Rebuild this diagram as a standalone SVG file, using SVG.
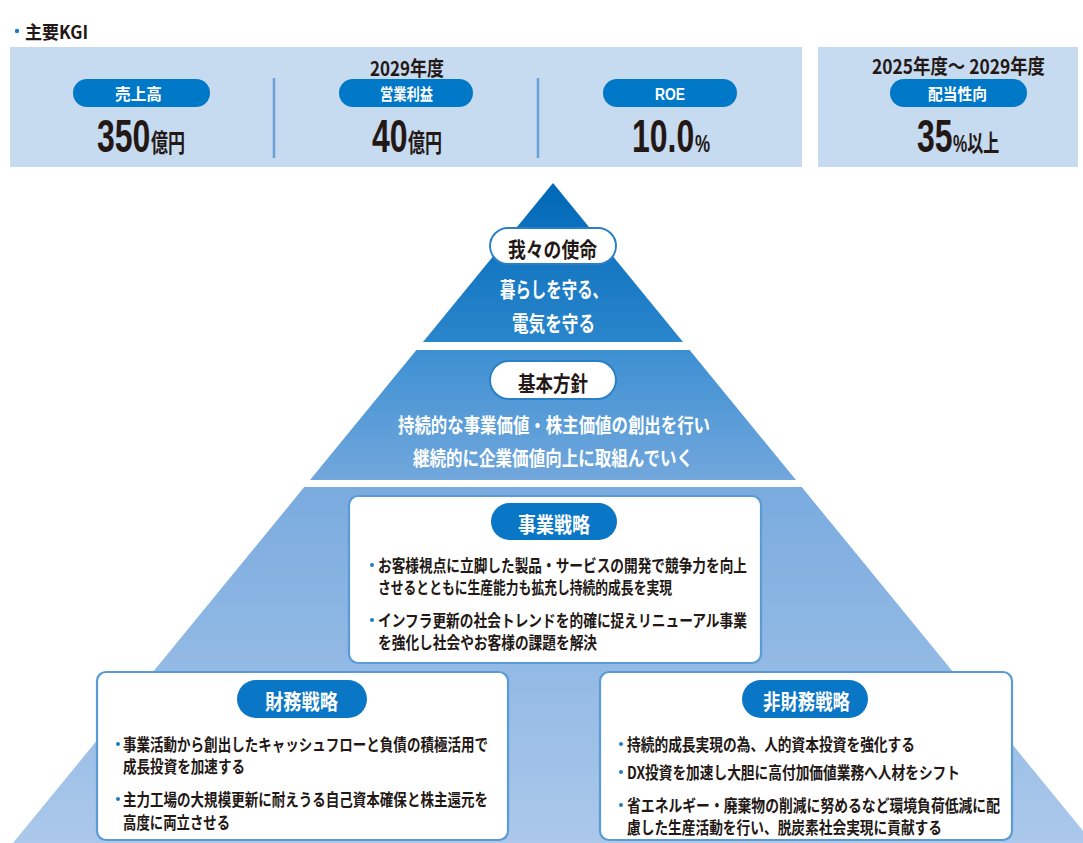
<svg xmlns="http://www.w3.org/2000/svg" width="1083" height="843" viewBox="0 0 1083 843">
<defs>
<linearGradient id="pyr" gradientUnits="userSpaceOnUse" x1="0" y1="183" x2="0" y2="843">
<stop offset="0" stop-color="#0068b7"/>
<stop offset="0.241" stop-color="#2a86cc"/>
<stop offset="0.253" stop-color="#3d90d3"/>
<stop offset="0.45" stop-color="#72a7dc"/>
<stop offset="0.461" stop-color="#7aabdf"/>
<stop offset="1" stop-color="#abc8ea"/>
</linearGradient>
<style>
.jp{font-family:"Noto Sans CJK JP","Noto Sans",sans-serif;font-weight:700}
.num{font-family:"Liberation Sans",Arial,sans-serif;font-weight:700}
.dk{fill:#231815}
.wh{fill:#ffffff}
.panel{fill:#c6daf0}
.div{stroke:#6a9fd8;stroke-width:2.5}
.kpill{fill:#0078c8}
.wpill{fill:#ffffff;stroke:#2a7fc6;stroke-width:2}
.box{fill:#ffffff;stroke:#5b9bd5;stroke-width:2.2}
.bpill{fill:#0a76c6}
.dot{fill:#1a7dc8}
.bul{font-size:16.5px}
.big{font-size:32px}
</style>
</defs>

<g id="kgi-header">
<circle class="dot" cx="17" cy="31" r="2.2"/>
<text class="jp dk" x="25" y="39" font-size="18" textLength="63" lengthAdjust="spacingAndGlyphs">主要KGI</text>
</g>

<g id="kgi-panel-2029">
<rect class="panel" x="10" y="47" width="792" height="120"/>
<line class="div" x1="274" y1="78" x2="274" y2="158"/>
<line class="div" x1="538" y1="78" x2="538" y2="158"/>
<text class="jp dk" x="370" y="75.5" font-size="20" textLength="74" lengthAdjust="spacingAndGlyphs">2029年度</text>
</g>

<g id="kgi-sales">
<rect class="kpill" x="73" y="79" width="137" height="28" rx="14"/>
<text class="jp wh" x="115" y="100" font-size="16" textLength="47" lengthAdjust="spacingAndGlyphs">売上高</text>
<text class="num dk big" transform="translate(97,152) scale(1,1.45)">350</text>
<text class="jp dk" font-size="17" transform="translate(151,152) scale(1,1.45)">億円</text>
</g>

<g id="kgi-profit">
<rect class="kpill" x="339" y="79" width="134" height="28" rx="14"/>
<text class="jp wh" x="380" y="100" font-size="16" textLength="53" lengthAdjust="spacingAndGlyphs">営業利益</text>
<text class="num dk big" transform="translate(372,152) scale(1,1.45)">40</text>
<text class="jp dk" font-size="17" transform="translate(408,152) scale(1,1.45)">億円</text>
</g>

<g id="kgi-roe">
<rect class="kpill" x="603" y="79" width="134" height="28" rx="14"/>
<text class="num wh" x="655" y="100" font-size="16" textLength="30" lengthAdjust="spacingAndGlyphs">ROE</text>
<text class="num dk big" transform="translate(632,152) scale(1,1.45)">10.0</text>
<text class="num dk" font-size="17" transform="translate(695,152) scale(1,1.45)">%</text>
</g>

<g id="kgi-dividend">
<rect class="panel" x="818" y="47" width="260" height="120"/>
<text class="jp dk" x="872" y="74" font-size="20" textLength="173" lengthAdjust="spacingAndGlyphs">2025年度～ 2029年度</text>
<rect class="kpill" x="890" y="79" width="137" height="28" rx="14"/>
<text class="jp wh" x="928" y="100" font-size="16" textLength="59" lengthAdjust="spacingAndGlyphs">配当性向</text>
<text class="num dk big" transform="translate(917,152) scale(1,1.45)">35</text>
<text class="dk" font-size="16" transform="translate(953,152) scale(1,1.5)"><tspan class="num">%</tspan><tspan class="jp">以上</tspan></text>
</g>

<g id="tier-mission">
<polygon fill="url(#pyr)" points="553,183 683,342 423,342"/>
<rect class="wpill" x="490" y="228" width="126" height="36" rx="18"/>
<text class="jp dk" x="508" y="257" font-size="21" textLength="89" lengthAdjust="spacingAndGlyphs">我々の使命</text>
<text class="jp wh" x="500" y="297" font-size="21" textLength="108" lengthAdjust="spacingAndGlyphs">暮らしを守る、</text>
<text class="jp wh" x="512" y="331" font-size="21" textLength="83" lengthAdjust="spacingAndGlyphs">電気を守る</text>
</g>

<g id="tier-policy">
<polygon fill="url(#pyr)" points="416.4,350 689.6,350 796,480 310,480"/>
<rect class="wpill" x="490" y="361" width="126" height="38" rx="19"/>
<text class="jp dk" x="518" y="391" font-size="21" textLength="70" lengthAdjust="spacingAndGlyphs">基本方針</text>
<text class="jp wh" x="398" y="433" font-size="20" textLength="312" lengthAdjust="spacingAndGlyphs">持続的な事業価値・株主価値の創出を行い</text>
<text class="jp wh" x="413" y="466" font-size="20" textLength="280" lengthAdjust="spacingAndGlyphs">継続的に企業価値向上に取組んでいく</text>
</g>

<g id="tier-strategy">
<polygon fill="url(#pyr)" points="304.3,487 801.7,487 1093,843 13,843"/>
</g>

<g id="business-strategy">
<rect class="box" x="349" y="496" width="412" height="167" rx="9"/>
<rect class="bpill" x="491" y="503" width="126" height="37" rx="18.5"/>
<text class="jp wh" x="518" y="532" font-size="21" textLength="72" lengthAdjust="spacingAndGlyphs">事業戦略</text>
<circle class="dot" cx="372" cy="565" r="2"/>
<text class="jp dk bul"><tspan x="378" y="572" textLength="369" lengthAdjust="spacingAndGlyphs">お客様視点に立脚した製品・サービスの開発で競争力を向上</tspan><tspan x="378" y="594" textLength="294" lengthAdjust="spacingAndGlyphs">させるとともに生産能力も拡充し持続的成長を実現</tspan></text>
<circle class="dot" cx="372" cy="620" r="2"/>
<text class="jp dk bul"><tspan x="378" y="627" textLength="369" lengthAdjust="spacingAndGlyphs">インフラ更新の社会トレンドを的確に捉えリニューアル事業</tspan><tspan x="378" y="649" textLength="219" lengthAdjust="spacingAndGlyphs">を強化し社会やお客様の課題を解決</tspan></text>
</g>

<g id="financial-strategy">
<rect class="box" x="97" y="672" width="411" height="168" rx="9"/>
<rect class="bpill" x="237" y="680" width="130" height="38" rx="19"/>
<text class="jp wh" x="265" y="709" font-size="21" textLength="73" lengthAdjust="spacingAndGlyphs">財務戦略</text>
<circle class="dot" cx="118" cy="744" r="2"/>
<text class="jp dk bul"><tspan x="123" y="751" textLength="365" lengthAdjust="spacingAndGlyphs">事業活動から創出したキャッシュフローと負債の積極活用で</tspan><tspan x="123" y="773" textLength="122" lengthAdjust="spacingAndGlyphs">成長投資を加速する</tspan></text>
<circle class="dot" cx="118" cy="799" r="2"/>
<text class="jp dk bul"><tspan x="123" y="806" textLength="365" lengthAdjust="spacingAndGlyphs">主力工場の大規模更新に耐えうる自己資本確保と株主還元を</tspan><tspan x="123" y="829" textLength="107" lengthAdjust="spacingAndGlyphs">高度に両立させる</tspan></text>
</g>

<g id="nonfinancial-strategy">
<rect class="box" x="600" y="672" width="412" height="168" rx="9"/>
<rect class="bpill" x="742" y="680" width="126" height="38" rx="19"/>
<text class="jp wh" x="763" y="709" font-size="21" textLength="87" lengthAdjust="spacingAndGlyphs">非財務戦略</text>
<circle class="dot" cx="621" cy="744" r="2"/>
<text class="jp dk bul" x="627" y="751" textLength="288" lengthAdjust="spacingAndGlyphs">持続的成長実現の為、人的資本投資を強化する</text>
<circle class="dot" cx="621" cy="772" r="2"/>
<text class="jp dk bul" x="627" y="779" textLength="333" lengthAdjust="spacingAndGlyphs">DX投資を加速し大胆に高付加価値業務へ人材をシフト</text>
<circle class="dot" cx="621" cy="805" r="2"/>
<text class="jp dk bul"><tspan x="627" y="812" textLength="373" lengthAdjust="spacingAndGlyphs">省エネルギー・廃棄物の削減に努めるなど環境負荷低減に配</tspan><tspan x="627" y="834" textLength="315" lengthAdjust="spacingAndGlyphs">慮した生産活動を行い、脱炭素社会実現に貢献する</tspan></text>
</g>
</svg>
